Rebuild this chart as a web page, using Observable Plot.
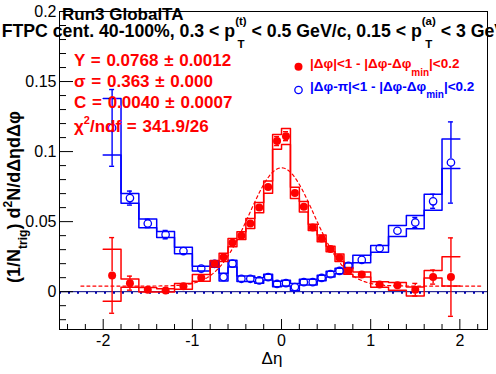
<!DOCTYPE html>
<html><head><meta charset="utf-8">
<script src="https://cdn.jsdelivr.net/npm/d3@7"></script>
<script src="https://cdn.jsdelivr.net/npm/@observablehq/plot@0.6"></script>
<style>
html,body{margin:0;padding:0;overflow:hidden;background:#fff;}
svg{overflow:hidden;display:block;}
</style></head><body><div id="chart"></div>
<script>
// ---- data ----
const etaEdges = [-2.0,-1.8,-1.6,-1.4,-1.2,-1.0,-0.8,-0.7,-0.6,-0.5,-0.4,-0.3,-0.2,-0.1,0.0,0.1,0.2,0.3,0.4,0.5,0.6,0.7,0.8,1.0,1.2,1.4,1.6,1.8,2.0];

// near side: |dphi|<1 - |dphi-dphi_min|<0.2  (red, filled)
const nearVal     = [0.0116,0.0061,0.0014,0.0009,0.0038,0.0099,0.0199,0.0245,0.0350,0.0400,0.0487,0.0600,0.0748,0.1075,0.1110,0.0705,0.0606,0.0459,0.0380,0.0305,0.0242,0.0148,0.0122,0.0051,0.0045,0.0014,0.0104,0.0104];
const nearStat    = [0.027,0.005,0.0015,0.0012,0.0015,0.002,0.002,0.002,0.002,0.002,0.0022,0.0024,0.0025,0.0032,0.0032,0.0025,0.0024,0.0022,0.002,0.002,0.002,0.002,0.002,0.0015,0.002,0.0045,0.005,0.028];
const nearSysUp   = [0.0186,0.003,0.0016,0.0012,0.002,0.0024,0.0024,0.003,0.003,0.0027,0.0036,0.0037,0.0042,0.0047,0.0055,0.004,0.0037,0.0023,0.0024,0.002,0.0027,0.0024,0.0018,0.002,0.002,0.0019,0.0048,0.0146];
const nearSysDown = [0.0185,0.003,0.0016,0.0012,0.002,0.0024,0.0024,0.003,0.003,0.0027,0.0036,0.0037,0.0045,0.0059,0.006,0.004,0.0037,0.0023,0.0024,0.002,0.0027,0.0024,0.0018,0.002,0.0035,0.0045,0.0007,0.0064];

// away side: |dphi-pi|<1 - |dphi-dphi_min|<0.2  (blue, open)
const awayVal     = [0.1169,0.0668,0.0487,0.0407,0.0290,0.0165,0.0199,0.0104,0.0200,0.0092,0.0092,0.0080,0.0104,0.0055,0.0061,0.0033,0.0068,0.0068,0.0098,0.0125,0.0148,0.0185,0.0227,0.0310,0.0435,0.0494,0.0645,0.0922];
const awayStat    = [0.0274,0.005,0.003,0.003,0.0022,0.002,0.0015,0.0015,0.0015,0.0015,0.0015,0.0015,0.0015,0.0015,0.0015,0.0015,0.0015,0.0015,0.0015,0.0015,0.0015,0.0015,0.002,0.002,0.0025,0.0036,0.005,0.029];
const awaySysUp   = [0.021,0.0032,0.0031,0.0023,0.0027,0.0017,0.0022,0.0027,0.0024,0.002,0.002,0.002,0.002,0.002,0.002,0.0026,0.002,0.002,0.002,0.002,0.002,0.002,0.0033,0.002,0.0038,0.005,0.0051,0.0167];
const awaySysDown = [0.0193,0.0036,0.003,0.002,0.002,0.0017,0.0022,0.0027,0.0024,0.002,0.002,0.002,0.002,0.002,0.002,0.0026,0.002,0.002,0.002,0.002,0.002,0.002,0.002,0.0028,0.0041,0.0045,0.0063,0.0042];

// Gaussian fit shown in the chart (parameters as printed)
const fitY = 0.0768, fitSigma = 0.363, fitC = 0.0040;
const fitRange = [-2.25, 2.25];

// axes
const xMajor = [-2,-1,0,1,2];
const xMinor = [-2.4,-2.2,-1.8,-1.6,-1.4,-1.2,-0.8,-0.6,-0.4,-0.2,0.2,0.4,0.6,0.8,1.2,1.4,1.6,1.8,2.2];
const yMajor = [0,0.05,0.1,0.15,0.2];
const yMinor = [-0.02,-0.01,0.01,0.02,0.03,0.04,0.06,0.07,0.08,0.09,0.11,0.12,0.13,0.14,0.16,0.17,0.18,0.19];

// ---- build tables ----
const RED = "#ff0000", BLUE = "#0000ff";
function rows(val, stat, up, dn) {
  return val.map((v, i) => ({
    x: (etaEdges[i] + etaEdges[i+1]) / 2, lo: etaEdges[i], hi: etaEdges[i+1],
    v, e: stat[i], up: v + up[i], dn: v - dn[i]
  }));
}
const near = rows(nearVal, nearStat, nearSysUp, nearSysDown);
const away = rows(awayVal, awayStat, awaySysUp, awaySysDown);
const steps = (rs, key) => rs.flatMap(r => [{x: r.lo, y: r[key]}, {x: r.hi, y: r[key]}]);
const fitPts = d3.range(fitRange[0], fitRange[1] + 1e-9, 0.01).map(x => ({
  x, y: fitC + fitY / (Math.sqrt(2 * Math.PI) * fitSigma) * Math.exp(-x * x / (2 * fitSigma * fitSigma))
}));

const R = 4;            // marker radius (px)
const minErr = 0.0029;  // errors smaller than the marker are hidden (ROOT style)

function errMarks(rs, color) {
  const big = rs.filter(r => r.e > minErr);
  return [
    Plot.ruleX(big, {x: "x", y1: d => d.v + d.e, y2: "v", insetBottom: R, stroke: color, strokeWidth: 1.4, clip: true}),
    Plot.ruleX(big, {x: "x", y1: "v", y2: d => d.v - d.e, insetTop: R, stroke: color, strokeWidth: 1.4, clip: true}),
    Plot.ruleY(big, {y: d => d.v + d.e, x1: "x", x2: "x", insetLeft: -2.5, insetRight: -2.5, stroke: color, strokeWidth: 1.4, clip: true}),
    Plot.ruleY(big, {y: d => d.v - d.e, x1: "x", x2: "x", insetLeft: -2.5, insetRight: -2.5, stroke: color, strokeWidth: 1.4, clip: true})
  ];
}

const FF = "'Liberation Sans', Arial, Helvetica, sans-serif";

const chart = Plot.plot({
  width: 496, height: 374,
  marginLeft: 59, marginRight: 9, marginTop: 11, marginBottom: 45,
  x: {domain: [-2.49, 2.31]},
  y: {domain: [-0.027, 0.2]},
  style: {fontFamily: FF, fontSize: "16px", background: "white", color: "black"},
  marks: [
    Plot.ruleY([0], {stroke: "#000080", strokeWidth: 1}),
    Plot.ruleY([0], {stroke: "#0000b0", strokeWidth: 2, strokeDasharray: "2,7", dy: 1}),
    Plot.line(steps(away, "up"), {x: "x", y: "y", stroke: BLUE, strokeWidth: 1.5, clip: true}),
    Plot.line(steps(away, "dn"), {x: "x", y: "y", stroke: BLUE, strokeWidth: 1.5, clip: true}),
    Plot.line(steps(near, "up"), {x: "x", y: "y", stroke: RED, strokeWidth: 1.5, clip: true}),
    Plot.line(steps(near, "dn"), {x: "x", y: "y", stroke: RED, strokeWidth: 1.5, clip: true}),
    Plot.line(fitPts, {x: "x", y: "y", stroke: RED, strokeWidth: 1.2, strokeDasharray: "3,3"}),
    ...errMarks(away, BLUE),
    Plot.dot(away, {x: "x", y: "v", r: 3.7, stroke: BLUE, fill: "none", strokeWidth: 1.3}),
    ...errMarks(near, RED),
    Plot.dot(near, {x: "x", y: "v", r: R, fill: RED, stroke: "none"}),
    Plot.axisX({ticks: xMajor, tickSize: 0, tickPadding: 5, tickFormat: d => String(d), fontSize: 16, label: null}),
    Plot.axisX({ticks: xMajor, tickSize: -10, tickFormat: () => "", label: null}),
    Plot.axisX({ticks: xMinor, tickSize: -5, tickFormat: () => "", label: null}),
    Plot.axisY({ticks: yMajor, tickSize: 0, tickPadding: 3, tickFormat: d => String(d), fontSize: 16, label: null}),
    Plot.axisY({ticks: yMajor, tickSize: -14, tickFormat: () => "", label: null}),
    Plot.axisY({ticks: yMinor, tickSize: -7, tickFormat: () => "", label: null}),
    Plot.frame({stroke: "black", strokeWidth: 1})
  ]
});
document.getElementById("chart").appendChild(chart);

// ---- texts (ROOT-like annotations) ----
const svg = d3.select(chart);
function addText(o, parts) {
  const t = (o.parent || svg).append("text")
    .attr("x", o.x || 0).attr("y", o.y || 0)
    .attr("font-family", FF).attr("font-size", o.size || 16)
    .attr("font-weight", o.weight || "normal")
    .attr("fill", o.fill || "black")
    .attr("text-anchor", o.anchor || "start")
    .style("white-space", "pre");
  if (o.wordSpacing) t.style("word-spacing", o.wordSpacing + "px");
  for (const p of parts) {
    if (typeof p === "string") { t.append("tspan").text(p); continue; }
    const s = t.append("tspan").text(p.t);
    if (p.size) s.attr("font-size", p.size);
    if (p.dx) s.attr("dx", p.dx);
    if (p.dy) s.attr("dy", p.dy);
  }
  return t;
}

addText({x: 62, y: 19.5, size: 17, weight: "bold"}, ["Run3 GlobalTA"]);
addText({x: 1.7, y: 36.5, size: 17.7, weight: "bold"}, [
  "FTPC cent. 40-100%, 0.3 < p",
  {t: "(t)", size: 11.5, dy: -11.8},
  {t: "T", size: 11.5, dx: -9.3, dy: 23.6},
  {t: " < 0.5 GeV/c, 0.15 < p", size: 17.7, dx: 2.3, dy: -11.8},
  {t: "(a)", size: 11.5, dy: -11.8},
  {t: "T", size: 11.5, dx: -10.5, dy: 23.6},
  {t: " < 3 GeV/c", size: 17.7, dx: 3.5, dy: -11.8}
]);

const statOpts = {x: 74, size: 17, weight: "bold", fill: RED, wordSpacing: 1};
addText({...statOpts, y: 66}, ["Y = 0.0768 \u00b1 0.0012"]);
addText({...statOpts, y: 86.7}, ["\u03c3 = 0.363 \u00b1 0.000"]);
addText({...statOpts, y: 108.3}, ["C = 0.0040 \u00b1 0.0007"]);
addText({...statOpts, y: 131.7}, ["\u03c7", {t: "2", size: 11, dy: -8}, {t: "/ndf = 341.9/26", size: 17, dy: 8}]);

// legend
svg.append("circle").attr("cx", 298.5).attr("cy", 66.7).attr("r", R).attr("fill", RED);
svg.append("circle").attr("cx", 298.5).attr("cy", 90).attr("r", 3.7).attr("fill", "none").attr("stroke", BLUE).attr("stroke-width", 1.3);
addText({x: 310, y: 68.3, size: 13.5, weight: "bold", fill: RED}, [
  "|\u0394\u03c6|<1 - |\u0394\u03c6-\u0394\u03c6", {t: "min", size: 10, dy: 7.4}, {t: "|<0.2", size: 13.5, dy: -7.4}
]);
addText({x: 310, y: 90.7, size: 13.5, weight: "bold", fill: BLUE}, [
  "|\u0394\u03c6-\u03c0|<1 - |\u0394\u03c6-\u0394\u03c6", {t: "min", size: 10, dy: 7.4}, {t: "|<0.2", size: 13.5, dy: -7.4}
]);

// axis titles
addText({x: 272, y: 363.5, size: 17, anchor: "middle"}, ["\u0394\u03b7"]);
const yt = svg.append("g").attr("transform", "translate(20,197) rotate(-90)");
addText({parent: yt, x: 0, y: 0, size: 18, weight: "bold", anchor: "middle"}, [
  "(1/N", {t: "trig", size: 12, dy: 6.5}, {t: ") d", size: 18, dy: -6.5},
  {t: "2", size: 12, dy: -8}, {t: "N/d\u0394\u03b7d\u0394\u03c6", size: 18, dy: 8}
]);
</script></body></html>
